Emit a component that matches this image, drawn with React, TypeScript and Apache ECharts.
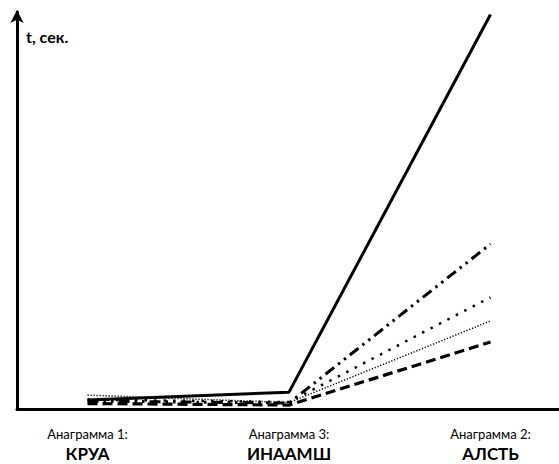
import React, { useEffect, useRef } from "react";
import * as echarts from "echarts";

const categories = ["Анаграмма 1:\n{b|КРУА}", "Анаграмма 3:\n{b|ИНААМШ}", "Анаграмма 2:\n{b|АЛСТЬ}"];
const yName = "t, сек.";

const solidVals = [3.6, 6.8, 159];
const dashDotDotVals = [3.2, 2.4, 66.5];
const dottedVals = [3.8, 2.8, 45];
const fineDottedVals = [5.6, 2.6, 35.5];
const dashedVals = [2.2, 1.6, 27];

export default function App() {
  const ref = useRef<HTMLDivElement>(null);
  useEffect(() => {
    const chart = echarts.init(ref.current!, null, { renderer: "svg" });
    const toData = (vals: number[]) => vals.map((v, i) => [i, v]);
    const mk = (name: string, vals: number[], width: number, type: any, cap: any = "butt") => ({
      name,
      type: "line",
      data: toData(vals),
      showSymbol: false,
      symbol: "none",
      lineStyle: { color: "#000", width, type, cap },
      z: 3,
    });
    chart.setOption({
      animation: false,
      backgroundColor: "#fff",
      grid: { left: 17, right: 0, top: 12, bottom: 51, containLabel: false },
      xAxis: {
        type: "value",
        min: -0.35,
        max: 2.34,
        splitLine: { show: false },
        axisTick: { show: false },
        axisLine: { show: true, onZero: false, lineStyle: { color: "#000", width: 3 } },
        axisLabel: {
          customValues: [0, 1, 2],
          formatter: (v: number) => categories[Math.round(v)],
          color: "#000",
          fontFamily: "Lato",
          fontSize: 13,
          lineHeight: 18,
          margin: 16,
          rich: { b: { fontFamily: "Lato", fontWeight: "bold", fontSize: 17, lineHeight: 21, color: "#000" } },
        },
      },
      yAxis: {
        type: "value",
        min: 0,
        max: 160,
        splitLine: { show: false },
        axisTick: { show: false },
        axisLabel: { show: false },
        axisLine: {
          show: true,
          onZero: false,
          lineStyle: { color: "#000", width: 3 },
          symbol: ["none", "arrow"],
          symbolSize: [10, 13],
          symbolOffset: [0, 2],
        },
      },
      graphic: [
        {
          type: "text",
          left: 26,
          top: 28,
          style: { text: yName, fill: "#000", font: "bold 16px Lato" },
        },
      ],
      series: [
        mk("solid", solidVals, 3, "solid"),
        mk("dashDotDot", dashDotDotVals, 3, [11, 5, 2.5, 5, 2.5, 5]),
        mk("dotted", dottedVals, 2.5, [2.5, 7]),
        mk("fineDotted", fineDottedVals, 1.5, [1.2, 1.8]),
        mk("dashed", dashedVals, 3.2, [10, 5]),
      ],
    });
    return () => chart.dispose();
  }, []);
  return <div ref={ref} style={{ width: 559, height: 464, position: "absolute", left: 0, top: 0 }} />;
}
